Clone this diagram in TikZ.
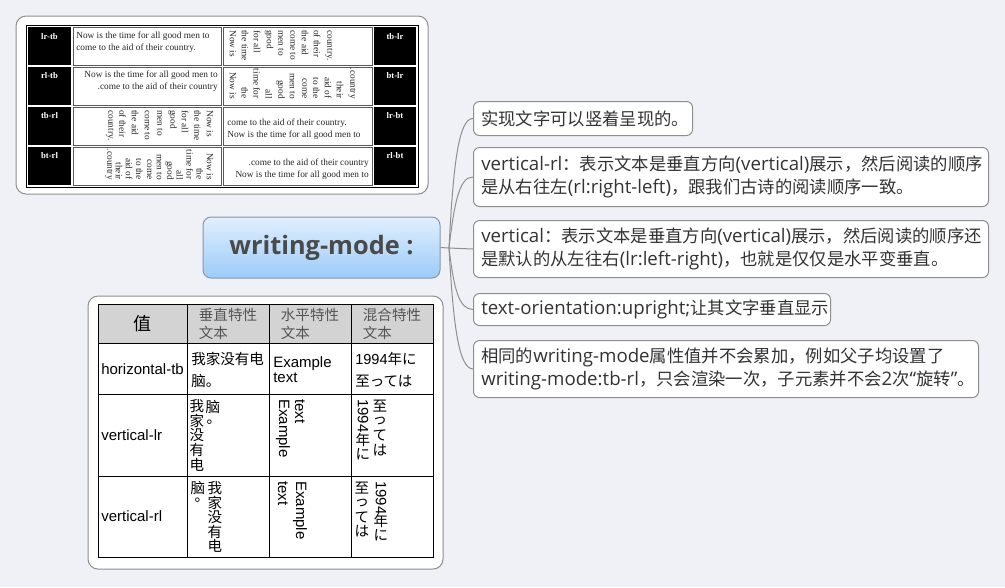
\documentclass[tikz,border=0pt]{standalone}
\usepackage{fontspec}
\usepackage{graphicx}
\setmainfont{Open Sans}
\newfontfamily\fcjk{Noto Sans CJK SC}
\newfontfamily\fserif{Liberation Serif}
\newfontfamily\fsans{Liberation Sans}
\newcommand\zh[1]{{\fcjk\fontsize{13}{17.25}\selectfont #1}}
\definecolor{bg}{HTML}{F0F1F7}
\definecolor{framegray}{HTML}{8E8E8E}
\definecolor{conngray}{HTML}{8F8F8F}
\definecolor{textdark}{HTML}{333333}
\definecolor{hdrfill}{HTML}{D3D3D3}
\definecolor{hdtext}{HTML}{555555}
\definecolor{ctop}{HTML}{E0EFFD}
\definecolor{cbot}{HTML}{9CCBF8}
\definecolor{cline}{HTML}{8896A6}
\definecolor{ctext}{HTML}{4A4A4A}
\begin{document}
\begin{tikzpicture}[x=0.75pt,y=-0.75pt,
  frame/.style={draw=framegray, fill=white, rounded corners=7.5pt, line width=0.75pt},
  rb/.style={draw=framegray, fill=white, rounded corners=4.5pt, line width=0.75pt, anchor=north west, inner sep=0pt},
  rt/.style={anchor=west, inner sep=0pt, align=left, font=\fontsize{14}{17.25}\selectfont, text=textdark},
  conn/.style={draw=conngray, line width=0.75pt},
  cell/.style={draw=black!65, line width=0.5pt},
  tl/.style={draw=black, line width=0.75pt},
  lbl/.style={text=white, font=\fserif\bfseries\fontsize{6.5}{7}\selectfont, inner sep=0pt},
  ser/.style={font=\fserif\fontsize{7}{9}\selectfont, text=black!85, inner sep=0pt},
  vser/.style={ser, rotate=-90},
  la/.style={font=\fsans\fontsize{11.25}{11.5}\selectfont, inner sep=0pt, text=black},
  zc/.style={font=\fcjk\fontsize{10.9}{16.5}\selectfont, inner sep=0pt, text=black},
  hd/.style={font=\fcjk\fontsize{10.9}{13.5}\selectfont, text=hdtext, align=left, inner sep=0pt},
  ctrbox/.style={draw=cline, top color=ctop, bottom color=cbot, rounded corners=6pt, line width=0.75pt,
    minimum width=177.75pt, minimum height=45.75pt, inner sep=0pt,
    font=\bfseries\fontsize{19}{21}\selectfont, text=ctext}
]
\useasboundingbox (0,0) rectangle (1005,587);
\fill[bg] (0,0) rectangle (1005,587);

% ---------- box 1: writing-mode sample table ----------
\draw[frame] (16,16) rectangle (428,194);
\draw[tl] (26,25) rectangle (418,187);
\foreach \ya/\yb in {27/65,67/105,107/145,147/185}{
  \draw[cell] (73,\ya) rectangle (221,\yb);
  \draw[cell] (223,\ya) rectangle (372,\yb);
  \fill[black] (28,\ya) rectangle (71,\yb);
  \fill[black] (374,\ya) rectangle (416,\yb);
}
\node[lbl] (l1) at (49.5,37) {lr-tb};
\node[lbl] (l2) at (49.5,76) {rl-tb};
\node[lbl] (l3) at (49.5,116) {tb-rl};
\node[lbl] (l4) at (49.5,156) {bt-rl};
\node[lbl] (l5) at (395,37) {tb-lr};
\node[lbl] (l6) at (395,76) {bt-lr};
\node[lbl] (l7) at (395,116) {lr-bt};
\node[lbl] (l8) at (395,156) {rl-bt};

\node[ser, align=left, anchor=west] (s1) at (76,42) {Now is the time for all good men to\\come to the aid of their country.};
\node[ser, align=right, anchor=east] (s2) at (218,81) {Now is the time for all good men to\\.come to the aid of their country};
\foreach \t [count=\i from 0] in {Now is,the time,for all,good,men to,come to,the aid,of their,country.}
  \node[vser, anchor=west] (s3\i) at (210-12.5*\i,110) {\t};
\foreach \t [count=\i from 0] in {Now is,the,time for,all,good,men to,come,to the,aid of,their,.country}
  \node[vser, anchor=east] (s4\i) at (210-10.1*\i,180) {\t};
\foreach \t [count=\i from 0] in {Now is,the time,for all,good,men to,come to,the aid,of their,country.}
  \node[vser, anchor=west] (s5\i) at (233+12*\i,30) {\t};
\foreach \t [count=\i from 0] in {Now is,the,time for,all,good,men to,come,to the,aid of,their,.country}
  \node[vser, anchor=east] (s6\i) at (233+11.9*\i,99) {\t};
\node[ser, align=left, anchor=west] (s7) at (227,129.5) {come to the aid of their country.\\Now is the time for all good men to};
\node[ser, align=right, anchor=east] (s8) at (369,169) {.come to the aid of their country\\Now is the time for all good men to};

% ---------- box 2: value table ----------
\draw[frame] (88,296) rectangle (443,569);
\fill[hdrfill] (98,304) rectangle (433,343);
\draw[tl] (98,304) rectangle (433,557);
\draw[tl] (98,343) -- (433,343) (98,394) -- (433,394) (98,476) -- (433,476)
  (187,304) -- (187,557) (269,304) -- (269,557) (351,304) -- (351,557);
\node[font=\fcjk\fontsize{13.5}{14}\selectfont, inner sep=0pt] (h1) at (142.5,323.5) {值};
\node[hd] (h2) at (228,324) {垂直特性\\文本};
\node[hd] (h3) at (310,324) {水平特性\\文本};
\node[hd] (h4) at (392,324) {混合特性\\文本};

\node[la, anchor=west] (r1) at (101,369) {horizontal-tb};
\node[zc, align=left, anchor=west] (r1a) at (191,370) {我家没有电\\脑。};
\node[la, align=left, anchor=west] (r1b) at (273,369.5) {Example\\text};
\node[zc, align=left, anchor=west] (r1c) at (355,370) {{\fsans 1994}年に\\至っては};

\node[la, anchor=west] (r2) at (101,435) {vertical-lr};
\foreach \c [count=\i from 0] in {我,家,没,有,电}
  \node[zc] (r2a\i) at (197,406.5+14.5*\i) {\c};
\node[zc] (r2b0) at (213,406.5) {脑};
\node[zc] (r2b1) at (214,422) {。};
\node[la, rotate=-90, anchor=west] (r2c) at (283,399) {Example};
\node[la, rotate=-90, anchor=west] (r2d) at (300,399) {text};
\node[la, rotate=-90, anchor=west] (r2e) at (363,399) {1994};
\node[zc] (r2f) at (363,440) {年};
\node[zc] (r2g) at (363,454.5) {に};
\foreach \c [count=\i from 0] in {至,っ,て,は}
  \node[zc] (r2h\i) at (380,406.5+14.5*\i) {\c};

\node[la, anchor=west] (r3) at (101,516) {vertical-rl};
\foreach \c [count=\i from 0] in {我,家,没,有,电}
  \node[zc] (r3a\i) at (215,488+14.5*\i) {\c};
\node[zc] (r3b0) at (198,488) {脑};
\node[zc] (r3b1) at (202,500) {。};
\node[la, rotate=-90, anchor=west] (r3c) at (300,481) {Example};
\node[la, rotate=-90, anchor=west] (r3d) at (283,481) {text};
\node[la, rotate=-90, anchor=west] (r3e) at (381,481) {1994};
\node[zc] (r3f) at (381,521) {年};
\node[zc] (r3g) at (381,535.5) {に};
\foreach \c [count=\i from 0] in {至,っ,て,は}
  \node[zc] (r3h\i) at (362,488+14.5*\i) {\c};

% ---------- central topic ----------
\node[ctrbox] (ctr) at (321.5,247.5) {writing-mode :};

% ---------- right boxes ----------
\node[rb, minimum width=164.25pt, minimum height=25.5pt] (bA) at (473,101) {};
\node[rb, minimum width=386.25pt, minimum height=44.25pt] (bB) at (473,147) {};
\node[rb, minimum width=386.25pt, minimum height=42.75pt] (bC) at (473,220) {};
\node[rb, minimum width=267.75pt, minimum height=24pt] (bD) at (473,293) {};
\node[rb, minimum width=378.75pt, minimum height=42.75pt] (bE) at (473,340) {};

\node[rt] (tA) at ([xshift=6pt]bA.west) {\zh{实现文字可以竖着呈现的。}};
\node[rt] (tB) at ([xshift=6pt]bB.west) {vertical-rl\zh{：表示文本是垂直方向}(vertical)\zh{展示，然后阅读的顺序}\\\zh{是从右往左}(rl:right-left)\zh{，跟我们古诗的阅读顺序一致。}};
\node[rt] (tC) at ([xshift=6pt]bC.west) {vertical\zh{：表示文本是垂直方向}(vertical)\zh{展示，然后阅读的顺序还}\\\zh{是默认的从左往右}(lr:left-right)\zh{，也就是仅仅是水平变垂直。}};
\node[rt] (tD) at ([xshift=6pt]bD.west) {text-orientation:upright;\zh{让其文字垂直显示}};
\node[rt] (tE) at ([xshift=6pt]bE.west) {\zh{相同的}writing-mode\zh{属性值并不会累加，例如父子均设置了}\\writing-mode:tb-rl\zh{，只会渲染一次，子元素并不会}2\zh{次}“\zh{旋转}”\zh{。}};

% ---------- connectors ----------
\coordinate (br) at (449,248);
\draw[conn] (ctr.east) -- (br);
\draw[conn] (br) .. controls (453,170) and (458,118) .. (bA.west);
\draw[conn] (br) .. controls (454,205) and (459,176.5) .. (bB.west);
\draw[conn] (br) -- (bC.west);
\draw[conn] (br) .. controls (454,290) and (459,309) .. (bD.west);
\draw[conn] (br) .. controls (453,320) and (458,368.5) .. (bE.west);
\end{tikzpicture}
\end{document}
